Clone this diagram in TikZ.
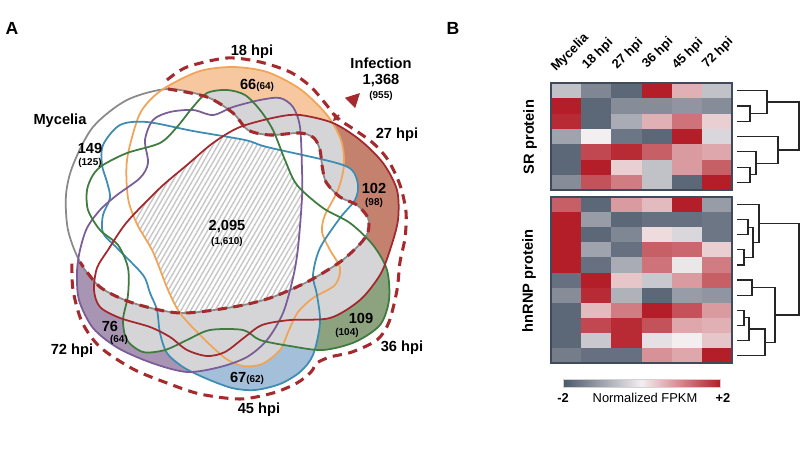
\documentclass[tikz,border=0pt]{standalone}
\usepackage{fontspec}
\setmainfont{Liberation Sans}
\usetikzlibrary{patterns.meta,arrows.meta}
\definecolor{mycl}{HTML}{8A8A8A}
\definecolor{oline}{HTML}{F0A458}
\definecolor{rline}{HTML}{A3282D}
\definecolor{gline}{HTML}{3E7B3E}
\definecolor{bline}{HTML}{3D8DB3}
\definecolor{pline}{HTML}{7A5C98}
\definecolor{ofill}{HTML}{F7C8A0}
\definecolor{rfill}{HTML}{C4826E}
\definecolor{gfill}{HTML}{8DA27E}
\definecolor{bfill}{HTML}{A3BFD9}
\definecolor{pfill}{HTML}{A895B3}
\definecolor{ovgray}{HTML}{D5D5D7}
\definecolor{dashred}{HTML}{A52A2E}
\definecolor{hmneg}{HTML}{4B586A}
\definecolor{hmmid}{HTML}{F3EEF0}
\definecolor{hmpos}{HTML}{B41E28}
\definecolor{hmframe}{HTML}{3F4A5A}
\def\pMyc{plot[smooth cycle] coordinates {(168,89) (207,97) (233,113) (248,130) (270,135) (300,133) (314,138) (320,150) (322,165) (326,182) (340,197) (357,205) (368,218) (368,232) (360,244) (340,262) (307,282) (270,298) (233,307) (180,313) (133,303) (100,287) (80,262) (68,230) (66,195) (73,165) (93,127) (127,100)}}
\def\pO{plot[smooth cycle] coordinates {(168,86) (200,71) (233,67) (267,72) (300,89) (327,115) (341,140) (344,165) (338,190) (325,215) (322,232) (330,250) (340,268) (335,285) (313,298) (298,312) (289,330) (280,350) (262,364) (243,366) (225,358) (200,335) (180,313) (168,290) (153,252) (137,224) (128,198) (127,160) (138,118) (150,100)}}
\def\pR{plot[smooth cycle] coordinates {(213,143) (240,127) (277,117) (300,115) (333,123) (360,140) (383,163) (397,190) (398,220) (390,250) (380,275) (360,300) (330,318) (290,320) (262,325) (245,337) (225,352) (207,356) (187,350) (170,337) (150,327) (120,318) (100,307) (94,290) (97,268) (108,250) (127,222) (160,188) (187,165)}}
\def\pG{plot[smooth cycle] coordinates {(103,165) (127,153) (160,143) (177,127) (193,107) (207,93) (227,90) (245,95) (260,110) (273,130) (285,160) (297,185) (323,208) (350,223) (373,245) (387,270) (389,300) (380,325) (355,342) (323,350) (290,346) (260,340) (243,330) (210,330) (187,340) (165,350) (143,352) (127,340) (123,320) (128,295) (128,268) (118,245) (100,230) (88,210) (87,190) (93,175)}}
\def\pB{plot[smooth cycle] coordinates {(120,125) (147,122) (193,131) (245,140) (267,147) (333,162) (352,170) (358,185) (355,200) (340,218) (320,248) (313,275) (317,295) (320,323) (313,355) (300,372) (280,384) (255,390) (232,388) (205,378) (183,367) (167,353) (160,333) (157,310) (150,293) (143,275) (117,248) (103,233) (103,215) (110,198) (107,182) (102,165) (103,145)}}
\def\pP{plot[smooth cycle] coordinates {(153,120) (170,112) (193,110) (213,115) (233,107) (260,100) (280,98) (293,107) (300,127) (302,170) (302,198) (298,248) (293,278) (283,313) (267,340) (247,357) (220,367) (187,372) (152,363) (118,348) (93,328) (79,300) (77,272) (80,250) (87,228) (100,210) (117,195) (140,178) (148,163) (145,140)}}
\newcommand\grayover[2]{\begin{scope}\clip #1; \fill[ovgray] #2;\end{scope}}
\begin{document}
\begin{tikzpicture}[x=0.03cm,y=-0.03cm,
  lbl/.style={font=\bfseries\fontsize{12.5}{14}\selectfont, inner sep=0pt},
  sml/.style={font=\bfseries\fontsize{8.5}{10}\selectfont, inner sep=0pt},
  panel/.style={font=\bfseries\fontsize{15}{17}\selectfont, inner sep=0pt},
  collbl/.style={font=\bfseries\fontsize{11}{13}\selectfont, inner sep=0pt, anchor=south west, rotate=45},
  setline/.style={line width=1.5pt},
  dashline/.style={draw=dashred, line width=2.6pt, dash pattern=on 8pt off 5.5pt},
  dend/.style={draw=black!85, line width=1.1pt},
  frame/.style={draw=hmframe, line width=1.1pt}]
\useasboundingbox (0,0) rectangle (800,472);
% ---- Venn fills ----
\fill[ofill] \pO;
\fill[rfill] \pR;
\fill[gfill] \pG;
\fill[bfill] \pB;
\fill[pfill] \pP;
\grayover{\pO}{\pR}
\grayover{\pO}{\pG}
\grayover{\pO}{\pB}
\grayover{\pO}{\pP}
\grayover{\pR}{\pG}
\grayover{\pR}{\pB}
\grayover{\pR}{\pP}
\grayover{\pG}{\pB}
\grayover{\pG}{\pP}
\grayover{\pB}{\pP}
\fill[white] \pMyc;
\begin{scope}
\clip \pMyc; \clip \pO; \clip \pR; \clip \pG; \clip \pB;
\fill[pattern={Lines[angle=60,distance=3.6pt,line width=1.2pt]}, pattern color=gray!45] \pP;
\end{scope}
% ---- Venn outlines ----
\draw[setline, draw=mycl] \pMyc;
\draw[setline, draw=oline] \pO;
\draw[setline, draw=bline] \pB;
\draw[setline, draw=pline] \pP;
\draw[setline, draw=gline] \pG;
\draw[setline, draw=rline] \pR;
% ---- Infection boundary ----
\draw[dashline] plot[smooth] coordinates {(168,89) (207,97) (233,113) (248,130) (270,135) (300,133) (314,138) (320,150) (322,165) (326,182) (340,197) (357,205) (368,218) (368,232) (360,244) (340,262) (307,282) (270,298) (233,307) (180,313) (133,303) (100,287) (80,262)};
\draw[dashline] plot[smooth] coordinates {(167,80) (187,67) (227,58) (260,62) (290,72) (310,86) (325,103) (337,118) (352,128) (373,143) (388,160) (400,185) (406,212) (405,238) (400,262) (397,290) (389,322) (377,340) (352,352) (330,357) (317,363) (311,372) (297,383) (273,393) (240,399) (200,394) (167,383) (133,369) (100,347) (82,322) (73,290) (72,262)};
\coordinate (arA) at (351,102);
\coordinate (arB) at (360,93);
\coordinate (arC) at (339,115);
\coordinate (arD) at (333,121);
\draw[draw=dashred, fill=dashred, line width=1.5pt, -{Triangle[length=12pt,width=12pt]}] (arA) -- (arB);
\draw[draw=dashred, fill=dashred, line width=1.5pt, -{Triangle[length=6pt,width=7pt]}] (arC) -- (arD);
% ---- Venn labels ----
\node[panel] (pA) at (12,28) {A};
\node[lbl] (l18) at (252,52) {18 hpi};
\node[lbl] (linf) at (381,63) {Infection};
\node[lbl] (linfn) at (381,81) {1,368};
\node[sml] (linfs) at (381,96) {(955)};
\node[lbl] (l27) at (397,135) {27 hpi};
\node[lbl] (lmyc) at (60,121) {Mycelia};
\node[lbl] (n149) at (90,148) {149};
\node[sml] (s149) at (90,163) {(125)};
\node[lbl] (n66) at (257,85) {66{\fontsize{8.5}{10}\selectfont(64)}};
\node[lbl] (n102) at (374,188) {102};
\node[sml] (s102) at (374,203) {(98)};
\node[lbl] (n2095) at (227,227) {2,095};
\node[sml] (s2095) at (227,242) {(1,610)};
\node[lbl] (n76) at (110,326) {76};
\node[sml] (s76) at (119,340) {(64)};
\node[lbl] (l72) at (72,351) {72 hpi};
\node[lbl] (n109) at (361,318) {109};
\node[sml] (s109) at (347,333) {(104)};
\node[lbl] (l36) at (402,348) {36 hpi};
\node[lbl] (n67) at (247,378) {67{\fontsize{8.5}{10}\selectfont(62)}};
\node[lbl] (l45) at (259,410) {45 hpi};
% ---- Heatmap ----
\node[panel] (pB) at (453,28) {B};
\foreach \row [count=\r] in {{-0.6,-1.4,-1.8,2,0.6,-0.6},{2,-1.8,-1.3,-1.3,-1.2,-1.3},{1.9,-1.8,-0.9,0.6,1.2,0.3},{-1.0,0,-1.6,-1.8,2,-0.3},{-1.8,1.6,1.9,1.4,0.8,0.7},{-1.8,2,0.3,-0.6,0.8,1.4},{-1.3,1.5,1.1,-0.6,-1.8,2}}{
  \foreach \v [count=\c] in \row {
    \pgfmathtruncatemacro\p{min(100,abs(\v)*50)}
    \pgfmathsetmacro\xa{551+(\c-1)*30.2}
    \pgfmathsetmacro\ya{83+(\r-1)*15.3}
    \ifdim \v pt<0pt \colorlet{hmc}{hmneg!\p!hmmid}\else\colorlet{hmc}{hmpos!\p!hmmid}\fi
    \fill[hmc] (\xa,\ya) rectangle ++(30.5,15.6);
  }
}
\foreach \row [count=\r] in {{1.4,-1.8,0.8,0.5,2,-1.1},{2,-1.1,-1.8,-1.7,-1.7,-1.6},{2,-1.8,-1.4,0.2,-0.3,-1.6},{2,-1.0,-1.7,1.4,1.3,0.3},{2,-1.7,-0.9,1.2,-0.1,1.1},{-1.7,2,0.4,-0.5,0.8,1.4},{-1.3,1.9,-0.8,-1.8,-1.1,-1.2},{-1.8,0.5,1.1,2,1.5,0.8},{-1.8,1.6,1.9,1.5,0.7,0.6},{-1.8,-0.5,1.9,-0.2,0,0.4},{-1.5,-1.7,-1.7,0.9,0.7,2}}{
  \foreach \v [count=\c] in \row {
    \pgfmathtruncatemacro\p{min(100,abs(\v)*50)}
    \pgfmathsetmacro\xa{551+(\c-1)*30.2}
    \pgfmathsetmacro\ya{197+(\r-1)*15.1}
    \ifdim \v pt<0pt \colorlet{hmc}{hmneg!\p!hmmid}\else\colorlet{hmc}{hmpos!\p!hmmid}\fi
    \fill[hmc] (\xa,\ya) rectangle ++(30.5,15.4);
  }
}
\draw[frame] (551,83) rectangle (732,190);
\draw[frame] (551,197) rectangle (732,363);
\node[collbl] (cM) at (558,74) {Mycelia};
\node[collbl] (c18) at (589,72) {18 hpi};
\node[collbl] (c27) at (619,72) {27 hpi};
\node[collbl] (c36) at (649,71) {36 hpi};
\node[collbl] (c45) at (679,72) {45 hpi};
\node[collbl] (c72) at (709,71) {72 hpi};
\node[lbl, rotate=90] (lsr) at (530,137) {SR protein};
\node[lbl, rotate=90] (lhn) at (529,281) {hnRNP protein};
% ---- SR dendrogram ----
\draw[dend] (737,105.95) -| (750,121.25) -- (737,121.25);
\draw[dend] (737,90.65) -| (767,113.6) -- (750,113.6);
\draw[dend] (737,167.15) -| (750,182.45) -- (737,182.45);
\draw[dend] (737,151.85) -| (756,174.8) -- (750,174.8);
\draw[dend] (737,136.55) -| (778,163.3) -- (756,163.3);
\draw[dend] (767,102.1) -| (799,149.9) -- (778,149.9);
% ---- hnRNP dendrogram ----
\draw[dend] (737,219.65) -| (748,234.75) -- (737,234.75);
\draw[dend] (737,249.85) -| (744,264.95) -- (737,264.95);
\draw[dend] (748,227.2) -| (753,257.4) -- (744,257.4);
\draw[dend] (737,204.55) -| (759,242.3) -- (753,242.3);
\draw[dend] (737,280.05) -| (752,295.15) -- (737,295.15);
\draw[dend] (737,310.25) -| (744,325.35) -- (737,325.35);
\draw[dend] (744,317.8) -| (749,340.45) -- (737,340.45);
\draw[dend] (749,329.1) -| (765,355.55) -- (737,355.55);
\draw[dend] (752,287.6) -| (775,342.3) -- (765,342.3);
\draw[dend] (759,223.4) -| (799,315) -- (775,315);
% ---- colour bar ----
\shade[left color=hmneg, right color=hmpos, middle color=hmmid] (563,379) rectangle (720,387);
\draw[gray!35, line width=0.8pt] (563,379) rectangle (720,387);
\node[font=\bfseries\fontsize{11}{13}\selectfont, inner sep=0pt] (cbl) at (563,398) {-2};
\node[font=\fontsize{11}{13}\selectfont, inner sep=0pt] (cbm) at (645,398) {Normalized FPKM};
\node[font=\bfseries\fontsize{11}{13}\selectfont, inner sep=0pt] (cbr) at (723,398) {+2};
\end{tikzpicture}
\end{document}
